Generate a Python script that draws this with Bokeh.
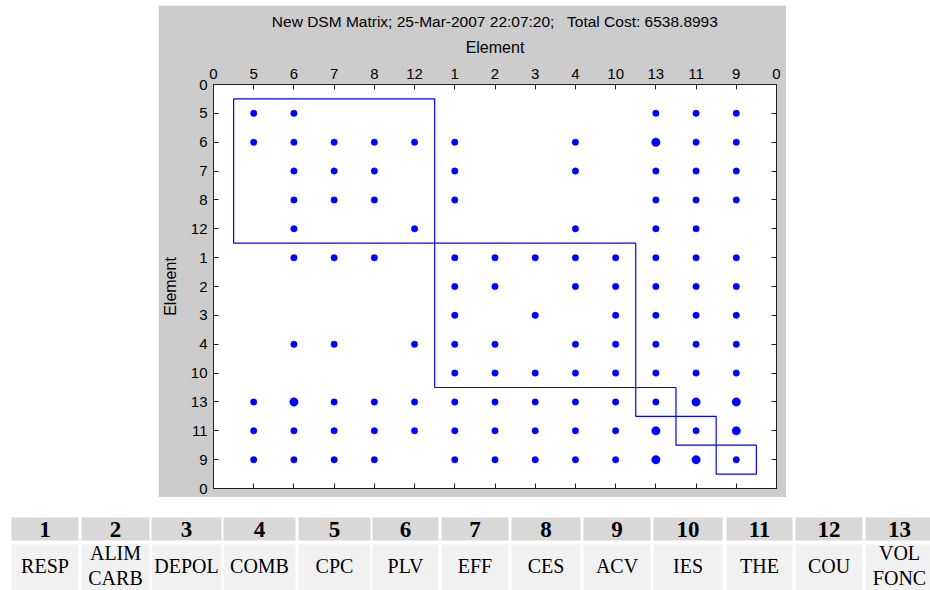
from bokeh.plotting import figure
from bokeh.models import Range1d, FixedTicker, LinearAxis, ColumnDataSource, Spacer
from bokeh.layouts import column, row
from bokeh.core.properties import value
from bokeh.embed import file_html
from bokeh.resources import INLINE

# ---------------- data ----------------
title_text = "New DSM Matrix; 25-Mar-2007 22:07:20;\u00a0\u00a0 Total Cost: 6538.8993"
clusters = [[5, 6, 7, 8, 12], [1, 2, 3, 4, 10], [13], [11], [9]]

# dependencies of each element (row) on other elements (columns)
deps_5 = [5, 6, 13, 11, 9]
deps_6 = [5, 6, 7, 8, 12, 1, 4, 13, 11, 9]
deps_7 = [6, 7, 8, 1, 4, 13, 11, 9]
deps_8 = [6, 7, 8, 1, 13, 11, 9]
deps_12 = [6, 12, 4, 13, 11]
deps_1 = [6, 7, 8, 1, 2, 3, 4, 10, 13, 11, 9]
deps_2 = [1, 2, 4, 10, 13, 11, 9]
deps_3 = [1, 3, 10, 13, 11, 9]
deps_4 = [6, 7, 12, 1, 2, 4, 10, 13, 11, 9]
deps_10 = [1, 2, 3, 4, 10, 13, 11, 9]
deps_13 = [5, 6, 7, 8, 12, 1, 2, 3, 4, 10, 13, 11, 9]
deps_11 = [5, 6, 7, 8, 12, 1, 2, 3, 4, 10, 13, 11, 9]
deps_9 = [5, 6, 7, 8, 1, 2, 3, 4, 10, 13, 11, 9]
# marks that appear doubled (heavier dots): (row, column)
double_rows = [6, 13, 13, 13, 11, 11, 9, 9]
double_cols = [13, 6, 11, 9, 13, 9, 13, 11]

table_numbers = [str(i) for i in range(1, 14)]
table_names = ["RESP", "ALIM\nCARB", "DEPOL", "COMB", "CPC", "PLV", "EFF",
               "CES", "ACV", "IES", "THE", "COU", "VOL\nFONC"]

# ---------------- build ----------------
order = [e for c in clusters for e in c]
pos = {e: i + 1 for i, e in enumerate(order)}
deps = {5: deps_5, 6: deps_6, 7: deps_7, 8: deps_8, 12: deps_12, 1: deps_1,
        2: deps_2, 3: deps_3, 4: deps_4, 10: deps_10, 13: deps_13, 11: deps_11, 9: deps_9}
xs, ys = [], []
for r, cols in deps.items():
    for c in cols:
        xs.append(pos[c]); ys.append(pos[r])

n = len(order)
tick_labels = {0: "0", n + 1: "0"}
for e in order:
    tick_labels[pos[e]] = str(e)
ticks = list(range(n + 2))

FONT = "Liberation Sans"
GREY = "#cccccc"
DARK = "#202020"

p = figure(width=628, height=492, x_range=Range1d(0, n + 1), y_range=Range1d(n + 1, 0),
           x_axis_location="above", output_backend="svg", toolbar_location=None,
           min_border_left=54, min_border_right=10, min_border_top=79, min_border_bottom=9,
           border_fill_color=GREY, background_fill_color="white",
           outline_line_color=DARK, outline_line_width=1)
p.grid.visible = False
p.title.text = title_text
p.title.align = "center"
p.title.text_font = FONT
p.title.text_font_size = "15.5px"
p.title.text_font_style = "normal"
p.title.text_color = "#000000"
p.title.standoff = 11

def style_axis(ax, labels=True):
    ax.ticker = FixedTicker(ticks=ticks)
    if labels:
        ax.major_label_overrides = dict(tick_labels)
    else:
        ax.major_label_overrides = {t: "" for t in ticks}
        ax.major_label_standoff = 0
    ax.major_tick_in = 5
    ax.major_tick_out = 0
    ax.minor_tick_line_color = None
    ax.axis_line_color = DARK
    ax.major_tick_line_color = DARK
    ax.major_label_text_font = FONT
    ax.major_label_text_font_size = "15px"
    ax.major_label_text_color = "#000000"
    ax.axis_label_text_font = FONT
    ax.axis_label_text_font_size = "16px"
    ax.axis_label_text_font_style = "normal"
    ax.axis_label_text_color = "#000000"

style_axis(p.xaxis[0])
p.xaxis[0].axis_label = "Element"
p.xaxis[0].major_label_standoff = 6
p.xaxis[0].axis_label_standoff = 10
style_axis(p.yaxis[0])
p.yaxis[0].axis_label = "Element"
p.yaxis[0].major_label_standoff = 6
p.yaxis[0].axis_label_standoff = 9

ax_b = LinearAxis()
style_axis(ax_b, labels=False)
p.add_layout(ax_b, "below")
ax_r = LinearAxis()
style_axis(ax_r, labels=False)
p.add_layout(ax_r, "right")

# cluster boxes
cl_left, cl_right = [], []
start = 1
for c in clusters:
    cl_left.append(start - 0.5)
    cl_right.append(start + len(c) - 0.5)
    start += len(c)
p.quad(left=cl_left, right=cl_right, top=cl_left, bottom=cl_right,
       fill_color=None, line_color="#0000ff", line_width=1.2)

p.scatter(xs, ys, size=6.5, marker="circle", fill_color="#0000ff", line_color="#0000ff", line_width=0.4)
p.scatter([pos[c] for c in double_cols], [pos[r] for r in double_rows], size=8.5, marker="circle",
          fill_color="#0000ff", line_color="#0000ff", line_width=0.4)

# ---------------- table ----------------
t = figure(width=930, height=93, x_range=Range1d(0, 930), y_range=Range1d(590, 497),
           output_backend="svg", toolbar_location=None, min_border=0,
           outline_line_color=None, background_fill_color="white", border_fill_color="white")
t.axis.visible = False
t.grid.visible = False
lefts = [11, 81, 151, 223, 298, 372, 441, 511, 583, 653, 726, 795, 865]
rights = [78, 149, 221, 295, 370, 438, 508, 580, 650, 722, 792, 862, 933]
centers = [(a + b) / 2 for a, b in zip(lefts, rights)]
t.quad(left=lefts, right=rights, top=517, bottom=540, fill_color="#d8d8d8", line_color=None)
t.quad(left=lefts, right=rights, top=544, bottom=590, fill_color="#f1f1f1", line_color=None)
src = ColumnDataSource(dict(x=centers, num=table_numbers, name=table_names))
t.text(x="x", y=529, text="num", source=src, text_align="center", text_baseline="middle",
       text_font=value("Liberation Serif"), text_font_style="bold", text_font_size="23px",
       text_color="#000000")
t.text(x="x", y=565, text="name", source=src, text_align="center", text_baseline="middle",
       text_font=value("Liberation Serif"), text_font_size="20px", text_color="#000000",
       text_line_height=1.15)

layout = column(Spacer(width=930, height=5), row(Spacer(width=158, height=492), p), t)
open("out.html", "w").write(file_html(layout, INLINE))
